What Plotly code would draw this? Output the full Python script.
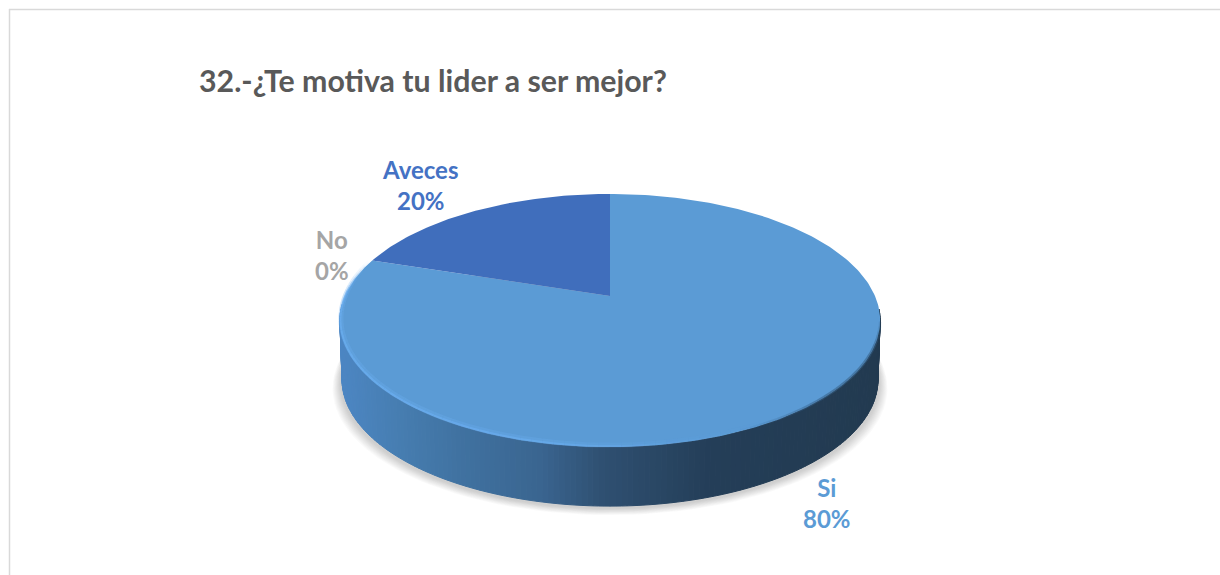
import numpy as np
import plotly.graph_objects as go

# Survey answers
categories = ["Si", "No", "Aveces"]
percentages = [80, 0, 20]
slice_colors = ["#5b9bd5", "#a5a5a5", "#406ebc"]
label_colors = ["#5b9bd5", "#a5a5a5", "#4472c4"]
title_text = "32.-¿Te motiva tu lider a ser mejor?"

# Perspective disc geometry, in page pixels
PIVOT_X, PIVOT_Y = 610, 296
SPREAD_X, SPREAD_Y = 265, 121.8
TILT = 0.194
DEPTH = 59

# Label offsets from the rim point at each slice's mid angle
label_offsets = {"Si": (32, 90), "No": (-40, -5), "Aveces": (-55, -26)}

# Horizontal shading of the disc's side wall
wall_x = [340, 400, 470, 540, 600, 650, 710, 880]
wall_r = [76, 70, 63, 58, 47, 42, 36, 34]
wall_g = [134, 125, 112, 101, 80, 72, 62, 58]
wall_b = [195, 176, 158, 144, 114, 102, 88, 80]


def rim(angle_deg, drop=0.0, shrink=1.0):
    """Project a point of the unit circle, angle clockwise from twelve o'clock."""
    a = np.radians(angle_deg)
    cx, cy = np.sin(a), np.cos(a)
    w = 1 + TILT * cy
    return (PIVOT_X + shrink * SPREAD_X * cx / w,
            PIVOT_Y - SPREAD_Y * cy / w + drop)


def wall_color(x):
    r = np.interp(x, wall_x, wall_r)
    g = np.interp(x, wall_x, wall_g)
    b = np.interp(x, wall_x, wall_b)
    return f"rgb({r:.0f},{g:.0f},{b:.0f})"


def polygon(x, y, fill, edge=None, width=0):
    return go.Scatter(x=x, y=y, mode="lines", fill="toself", fillcolor=fill,
                      line=dict(color=edge or fill, width=width),
                      hoverinfo="skip", showlegend=False)


def edge_stroke(seg, color, width, drop=0.0, shrink=1.0):
    ex, ey = rim(seg, drop=drop, shrink=shrink)
    return go.Scatter(x=ex, y=ey, mode="lines", hoverinfo="skip", showlegend=False,
                      line=dict(color=color, width=width))


fig = go.Figure()

# Soft drop shadow under the disc
full = np.linspace(0, 360, 181)
for i in range(10, 0, -1):
    sx, sy = rim(full, drop=DEPTH + 2 + i * 0.7, shrink=0.995 + i * 0.0032)
    fig.add_trace(polygon(sx, sy, "rgba(90,90,90,0.026)"))

# Side wall, left to right along the front of the disc
steps = np.linspace(96, 266, 171)
for a0, a1 in zip(steps[:-1], steps[1:]):
    seg = np.array([a0, a1])
    tx, ty = rim(seg)
    bx, by = rim(seg, drop=DEPTH, shrink=0.992)
    xs = list(tx) + list(bx[::-1]) + [tx[0]]
    ys = list(ty) + list(by[::-1]) + [ty[0]]
    fig.add_trace(polygon(xs, ys, wall_color(tx.mean()), width=1))

# Top face, one polygon per slice, from the cumulative shares
total = sum(percentages)
start = 0.0
anchors = {}
for name, pct, color in zip(categories, percentages, slice_colors):
    sweep = 360 * pct / total
    arc = np.linspace(start, start + sweep, max(2, int(sweep) + 1))
    ax, ay = rim(arc)
    fig.add_trace(polygon([PIVOT_X, *ax, PIVOT_X], [PIVOT_Y, *ay, PIVOT_Y], color))
    anchors[name] = rim(start + sweep / 2)
    start += sweep

# Bevel along the front edge of the top face: a wide faint band and a narrow bright one
bevel_stops = [110, 150, 170, 190, 230, 270, 286]
bevel_level = [0.0, 0.0, 0.25, 0.85, 1.0, 1.0, 0.0]
bevel_angles = np.linspace(110, 286, 89)
for a0, a1 in zip(bevel_angles[:-1], bevel_angles[1:]):
    seg = np.array([a0, a1])
    level = float(np.interp((a0 + a1) / 2, bevel_stops, bevel_level))
    if level > 0:
        fig.add_trace(edge_stroke(seg, f"rgba(105,172,238,{0.35 * level:.2f})", 5,
                                  drop=-2.0, shrink=0.996))
        fig.add_trace(edge_stroke(seg, f"rgba(105,172,238,{0.8 * level:.2f})", 2,
                                  drop=-1.0, shrink=0.998))

# Dark soft edge where the right of the top face meets the wall
dark_angles = np.arange(100, 156, 2.0)
for a0 in dark_angles:
    seg = np.array([a0, a0 + 2])
    fade = float(np.interp(a0, [100, 112, 135, 155], [0.0, 0.55, 0.55, 0.0]))
    fig.add_trace(edge_stroke(seg, f"rgba(52,92,130,{fade:.2f})", 3, drop=-0.5))

# Category and percentage labels
for name, pct, color in zip(categories, percentages, label_colors):
    ox, oy = label_offsets[name]
    fig.add_annotation(x=anchors[name][0], y=anchors[name][1], xshift=ox, yshift=-oy,
                       text=f"{name}<br>{pct}%", showarrow=False, align="center",
                       font=dict(family="Lato", size=24, color=color, weight="bold"))

fig.add_annotation(x=197, y=79.5, xanchor="left", yanchor="middle", text=title_text,
                   showarrow=False,
                   font=dict(family="Lato", size=30.3, color="#595959", weight="bold"))

fig.update_layout(
    width=1220, height=575, autosize=False,
    margin=dict(l=0, r=0, t=0, b=0),
    paper_bgcolor="white", plot_bgcolor="white",
    xaxis=dict(range=[0, 1220], visible=False, fixedrange=True),
    yaxis=dict(range=[575, 0], visible=False, fixedrange=True),
    shapes=[
        dict(type="line", xref="x", yref="y", x0=9, x1=1220, y0=9.5, y1=9.5,
             line=dict(color="#d9d9d9", width=1.5)),
        dict(type="line", xref="x", yref="y", x0=9.5, x1=9.5, y0=9, y1=575,
             line=dict(color="#d9d9d9", width=1.5)),
    ],
)

fig.write_html("out.html", config=dict(displayModeBar=False))
